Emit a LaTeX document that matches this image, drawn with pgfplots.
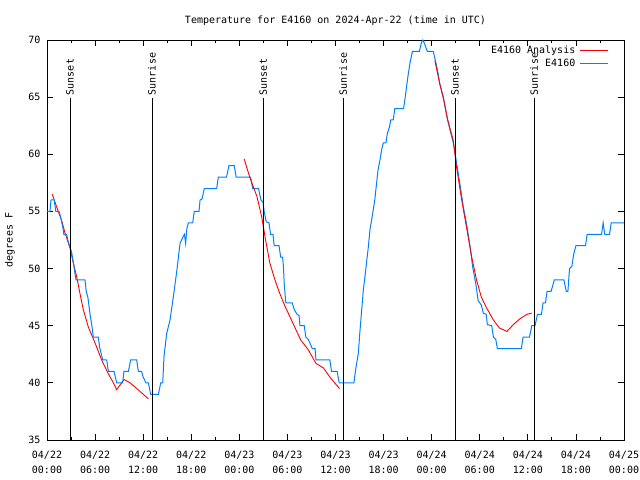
\documentclass[border=0pt]{standalone}
\usepackage{pgfplots}
\pgfplotsset{compat=1.18}
\usepackage{fontspec}
\setmainfont{DejaVu Sans Mono}
\setmonofont{DejaVu Sans Mono}
\definecolor{gblue}{RGB}{0,128,255}
\definecolor{gred}{RGB}{255,0,0}
\newcommand{\gf}{\fontsize{10bp}{15bp}\selectfont}
\begin{document}
\begin{tikzpicture}
\path[use as bounding box] (0,0) rectangle (640bp,480bp);
\begin{axis}[
  at={(47bp,40bp)}, anchor=south west,
  scale only axis, width=577bp, height=400bp,
  xmin=0, xmax=72, ymin=35, ymax=70,
  axis line style={line width=0.8bp},
  every tick/.style={black, line width=0.8bp},
  tick align=inside,
  major tick length=6bp, minor tick length=3bp,
  xtick={0,6,...,72},
  minor x tick num=1,
  xticklabels={04/22\\00:00,04/22\\06:00,04/22\\12:00,04/22\\18:00,04/23\\00:00,04/23\\06:00,04/23\\12:00,04/23\\18:00,04/24\\00:00,04/24\\06:00,04/24\\12:00,04/24\\18:00,04/25\\00:00},
  xticklabel style={align=center, font=\gf, yshift=-8bp},
  ytick={35,40,...,70},
  yticklabel style={font=\gf, xshift=-3bp},
  /pgf/number format/assume math mode=true,
  legend style={draw=none, fill=none, at={(rel axis cs:1,1)}, anchor=north east, xshift=-15bp, yshift=-4.5bp, font=\fontsize{10bp}{12bp}\selectfont, row sep=1bp, column sep=3bp, inner sep=0pt, nodes={inner sep=1.5bp}},
  legend cell align=right, legend plot pos=right,
  legend image code/.code={\draw[#1] (0bp,0bp) -- (28bp,0bp);},
]
% Analysis segment 1
\addplot[gred, line width=0.9bp] coordinates {
(0.66,56.5) (1.2,55.4) (1.83,54.2) (2.25,53.1) (2.87,51.8) (3.28,50.5) (3.7,49.3) (4.12,47.8) (4.53,46.4) (5.15,44.9) (5.99,43.5) (6.82,42.0) (7.65,40.8) (8.28,40.0) (8.7,39.4) (9.6,40.3) (10.36,40.0) (11.2,39.5) (12.65,38.6)
};
\addlegendentry{E4160 Analysis}
% Observations
\addplot[gblue, line width=1bp] coordinates {
(0,55) (0.37,55) (0.5,56) (0.9,56) (1.1,55) (1.5,55) (1.7,54.5) (1.85,54) (2.0,53.5) (2.1,53) (2.45,53) (2.6,52.5) (2.8,52) (3.05,51.5) (3.3,50.5) (3.5,49.5) (3.62,49) (4.74,49) (4.9,48) (5.1,47.5) (5.37,46) (5.6,45) (5.78,44) (6.4,44) (6.6,43) (6.95,42) (7.45,42) (7.66,41) (8.36,41) (8.7,40) (9.44,40) (9.6,41) (10.15,41) (10.3,41.5) (10.44,42) (11.19,42) (11.4,41) (11.8,41) (12.0,40.5) (12.35,40) (12.65,40) (12.94,39) (13.9,39) (14.19,40) (14.44,40) (14.6,42.3) (14.93,44.3) (15.35,45.5) (15.76,47.5) (16.18,49.7) (16.6,52.2) (17.0,52.8) (17.15,53) (17.3,52.2) (17.45,53.5) (17.64,54) (18.18,54) (18.38,55) (18.97,55) (19.1,56) (19.35,56.1) (19.63,57) (21.17,57) (21.38,58) (22.4,58) (22.7,59) (23.37,59) (23.6,58) (25.4,58) (25.67,57) (26.4,57) (26.7,56) (26.95,55.8) (27.1,55) (27.35,54.1) (27.7,54) (27.9,53) (28.2,53) (28.35,52) (28.95,52) (29.16,51) (29.4,51) (29.5,50.2) (29.6,48.7) (29.8,47) (30.6,47) (30.86,46.4) (31.2,46) (31.45,45.9) (31.57,45) (32.1,45) (32.3,44) (32.6,43.8) (32.8,43.5) (33.1,43) (33.45,43) (33.57,42) (35.3,42) (35.5,41) (36.2,41) (36.47,40) (38.3,40) (38.5,41.1) (38.85,42.6) (39.06,44.6) (39.27,46.4) (39.47,48.1) (39.68,49.3) (39.9,50.7) (40.1,51.9) (40.3,53.4) (40.5,54.2) (40.7,55.1) (40.9,56.0) (41.1,57.3) (41.3,58.6) (41.55,59.5) (41.76,60.4) (41.97,61) (42.3,61) (42.46,61.8) (42.7,62.3) (42.9,63) (43.2,63) (43.4,64) (44.5,64) (44.7,65) (44.9,66.1) (45.1,67.1) (45.3,68) (45.6,69) (46.46,69) (46.7,69.7) (46.9,70) (47.1,69.7) (47.45,69) (48.2,69) (48.5,68.1) (48.8,67.1) (49.0,66.2) (49.45,65) (49.9,63.3) (50.3,62.1) (50.7,61) (51.1,59.3) (51.5,57.5) (51.95,55.4) (52.4,53.7) (52.8,51.9) (53.1,50.2) (53.5,48.7) (53.8,47.2) (54.2,46.8) (54.45,46.1) (54.8,46) (54.95,45.1) (55.5,45) (55.7,44) (56.0,43.8) (56.2,43) (59.2,43) (59.4,44) (60.2,44) (60.5,45) (60.9,45) (61.2,46) (61.7,46) (61.9,47) (62.2,47) (62.4,48) (62.9,48) (63.3,49) (64.5,49) (64.8,48) (65.0,48) (65.2,50) (65.5,50.2) (65.7,51.2) (66.0,52) (67.2,52) (67.4,53) (69.2,53) (69.4,54) (69.6,53) (70.2,53) (70.4,54) (72,54)
};
\addlegendentry{E4160}
% Analysis segment 2
\addplot[gred, line width=0.9bp, forget plot] coordinates {
(24.6,59.6) (25.3,58.0) (26.2,56.3) (26.8,54.5) (27.2,52.8) (27.8,50.5) (28.45,49.0) (29.0,47.9) (29.7,46.7) (30.7,45.2) (31.66,43.75) (32.6,42.9) (33.57,41.7) (34.5,41.3) (35.3,40.5) (36.5,39.5)
};
% Analysis segment 3
\addplot[gred, line width=0.9bp, forget plot] coordinates {
(48.4,68.2) (49.0,66.2) (49.5,64.8) (50.0,63.0) (50.7,61.2) (51.1,58.9) (51.75,56.0) (52.4,53.4) (53.0,51.0) (53.6,49.0) (54.2,47.5) (54.9,46.5) (55.7,45.5) (56.45,44.8) (57.4,44.5) (58.2,45.1) (59.0,45.6) (59.9,46.0) (60.5,46.1)
};
% Sunrise / sunset markers
\addplot[black, line width=0.8bp, forget plot] coordinates {(2.87,35) (2.87,64.9)};
\addplot[black, line width=0.8bp, forget plot] coordinates {(13.1,35) (13.1,64.9)};
\addplot[black, line width=0.8bp, forget plot] coordinates {(26.97,35) (26.97,64.9)};
\addplot[black, line width=0.8bp, forget plot] coordinates {(36.95,35) (36.95,64.9)};
\addplot[black, line width=0.8bp, forget plot] coordinates {(50.9,35) (50.9,64.9)};
\addplot[black, line width=0.8bp, forget plot] coordinates {(60.8,35) (60.8,64.9)};
\node[rotate=90, anchor=west, font=\gf, inner sep=3bp] at (axis cs:2.87,64.9) {Sunset};
\node[rotate=90, anchor=west, font=\gf, inner sep=3bp] at (axis cs:13.1,64.9) {Sunrise};
\node[rotate=90, anchor=west, font=\gf, inner sep=3bp] at (axis cs:26.97,64.9) {Sunset};
\node[rotate=90, anchor=west, font=\gf, inner sep=3bp] at (axis cs:36.95,64.9) {Sunrise};
\node[rotate=90, anchor=west, font=\gf, inner sep=3bp] at (axis cs:50.9,64.9) {Sunset};
\node[rotate=90, anchor=west, font=\gf, inner sep=3bp] at (axis cs:60.8,64.9) {Sunrise};
\end{axis}
\node[anchor=base, font=\gf, inner sep=0pt] at (335.5bp,456bp) {Temperature for E4160 on 2024-Apr-22 (time in UTC)};
\node[rotate=90, font=\gf, inner sep=0pt] at (10bp,240bp) {degrees F};
\end{tikzpicture}
\end{document}
